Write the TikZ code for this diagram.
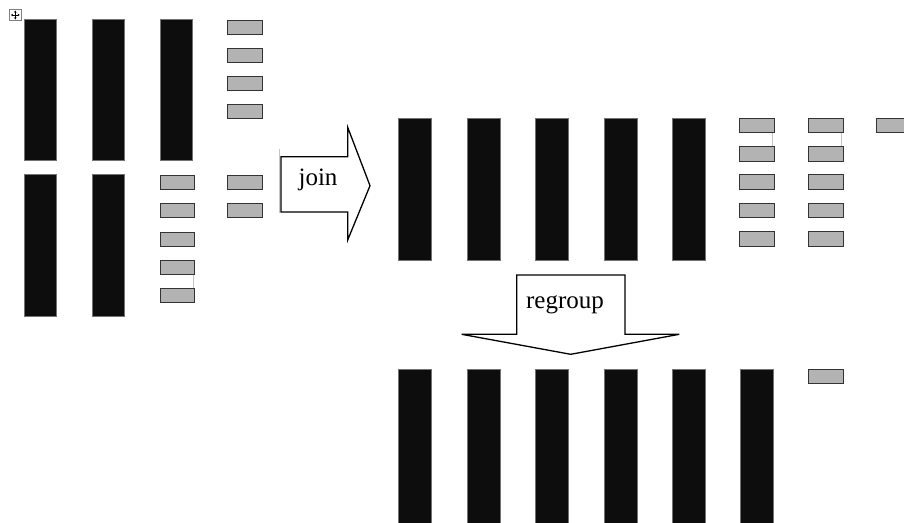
\documentclass[tikz,border=0pt]{standalone}
\usepackage{fontspec}
\setmainfont{Liberation Serif}
\usetikzlibrary{arrows.meta}
\definecolor{barfill}{HTML}{0D0D0D}
\definecolor{chipfill}{HTML}{B3B3B3}
\definecolor{chipedge}{HTML}{333333}
\definecolor{faint}{HTML}{C4C4C4}
\tikzset{
  bar/.style={fill=barfill, draw=black!55, line width=0.8pt},
  chip/.style={fill=chipfill, draw=chipedge, line width=1pt},
  faintline/.style={draw=faint, line width=1pt},
  bigarrow/.style={fill=white, draw=black, line width=1.3pt, line join=miter},
  lbl/.style={font=\fontsize{25}{30}\selectfont, inner sep=0pt, anchor=base}
}
\begin{document}
\begin{tikzpicture}[x=1pt,y=-1pt]
\useasboundingbox (0,0) rectangle (904,522);
% move handle icon
\draw[draw=black!50, line width=0.8pt, fill=white] (9.3,9.3) rectangle (21.3,20.7);
\draw[line width=0.6pt, {Stealth[length=2pt,width=2.6pt]}-{Stealth[length=2pt,width=2.6pt]}] (11,15) -- (19.6,15);
\draw[line width=0.6pt, {Stealth[length=2pt,width=2.6pt]}-{Stealth[length=2pt,width=2.6pt]}] (15.3,10.6) -- (15.3,19.4);
% ---- left group ----
\foreach \x in {24,92,160}{\draw[bar] (\x,19.5) rectangle ++(32.5,140.5);}
\foreach \y in {20,48,76,104}{\draw[chip] (227,\y) rectangle ++(35,14);}
\foreach \x in {24,92}{\draw[bar] (\x,174.7) rectangle ++(32.5,141.3);}
\draw[faintline] (193,274) -- (193,288);
\foreach \y in {175,203,232,260,288}{\draw[chip] (160,\y) rectangle ++(34,14);}
\foreach \y in {175,203}{\draw[chip] (227,\y) rectangle ++(35,14);}
\draw[faintline] (279.3,149) -- (279.3,213);
% ---- join arrow ----
\draw[bigarrow] (281,156.7) -- (347.7,156.7) -- (347.7,127.3) -- (370,185.7)
  -- (347.7,240) -- (347.7,212) -- (281,212) -- cycle;
\node[lbl] (join) at (318,185) {join};
% ---- middle group ----
\foreach \x in {398.5,467.3,535.8,604.2,672.7}{\draw[bar] (\x,118.3) rectangle ++(33,141.7);}
\draw[faintline] (772.7,132.7) -- (772.7,146.7);
\draw[faintline] (841.3,132.7) -- (841.3,146.7);
\foreach \y in {118.3,146.7,174.7,203,231.7}{
  \draw[chip] (739.3,\y) rectangle ++(35.4,14.3);
  \draw[chip] (808,\y) rectangle ++(35,14.3);}
\draw[chip] (876.7,118.3) rectangle ++(35,14.3);
% ---- regroup arrow ----
\draw[bigarrow] (516.7,275) -- (625,275) -- (625,334.3) -- (679.3,334.3)
  -- (570.7,354.3) -- (461.7,334.3) -- (516.7,334.3) -- cycle;
\node[lbl] (regroup) at (565,308) {regroup};
% ---- bottom group ----
\foreach \x in {398.5,467.3,535.8,604.2,672.7,740.7}{\draw[bar] (\x,369) rectangle ++(33,160);}
\draw[chip] (808,369.3) rectangle ++(35,14.3);
\end{tikzpicture}
\end{document}
